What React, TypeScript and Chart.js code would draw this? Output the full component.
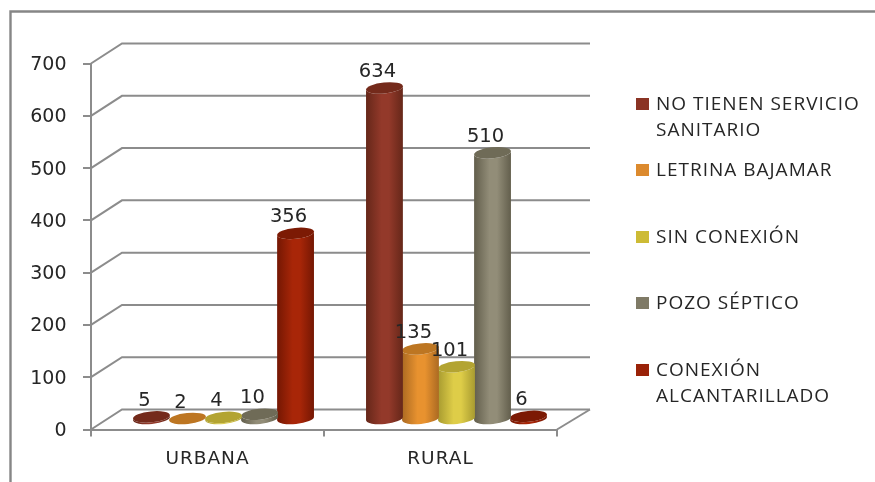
import React, { useEffect, useRef } from "react";
import { Chart, registerables } from "chart.js";

Chart.register(...registerables);

const categories = ["URBANA", "RURAL"];
const noTienen = [5, 634];
const letrina = [2, 135];
const sinConexion = [4, 101];
const pozo = [10, 510];
const alcantarillado = [356, 6];
const seriesNames = [
  "NO TIENEN SERVICIO SANITARIO",
  "LETRINA BAJAMAR",
  "SIN CONEXIÓN",
  "POZO SÉPTICO",
  "CONEXIÓN ALCANTARILLADO",
];
const swatchColors = ["#8a3324", "#dc8a2e", "#cdbb35", "#7f7a66", "#9a2208"];
const edgeColors = ["#652719", "#ab6a22", "#a89b30", "#625e4c", "#741703"];
const midColors = ["#93392a", "#e8922f", "#decd48", "#928d78", "#a82608"];
const capColors = ["#742a1b", "#bd7622", "#b3a432", "#6f6b57", "#7c1a04"];

const GRAY = "#8c8c8c";
const TEXT = "#262626";
const DEPTH_X = 31;
const DEPTH_Y = 20;
const BAR_DX = 16;
const BAR_DY = 10;
const RY = 5.5;
const TILT = -0.1;
const LEGEND_Y = [104.5, 170.5, 237.5, 303.5, 370.5];

const plugin = {
  id: "cyl3d",
  beforeDraw(chart: any) {
    const c = chart.ctx;
    c.save();
    c.fillStyle = "#fff";
    c.fillRect(0, 0, chart.width, chart.height);
    c.strokeStyle = "#868686";
    c.lineWidth = 2.4;
    c.beginPath();
    c.moveTo(10.5, 482);
    c.lineTo(10.5, 11.5);
    c.lineTo(875, 11.5);
    c.stroke();
    c.restore();
    c.letterSpacing = "1px";
  },
  beforeDatasetsDraw(chart: any) {
    const c = chart.ctx;
    c.letterSpacing = "0px";
    const y = chart.scales.y;
    const { left, right, bottom } = chart.chartArea;
    c.save();
    c.strokeStyle = GRAY;
    c.lineWidth = 2;
    y.ticks.forEach((t: any) => {
      const py = y.getPixelForValue(t.value);
      c.beginPath();
      c.moveTo(left, py);
      c.lineTo(left + DEPTH_X, py - DEPTH_Y);
      c.lineTo(right + DEPTH_X + 2, py - DEPTH_Y);
      c.stroke();
    });
    c.beginPath();
    c.moveTo(right, bottom);
    c.lineTo(right + DEPTH_X + 2, bottom - DEPTH_Y);
    c.stroke();
    c.fillStyle = TEXT;
    c.font = '19px "DejaVu Sans"';
    c.textAlign = "right";
    c.textBaseline = "middle";
    y.ticks.forEach((t: any) => {
      c.fillText(String(t.value), 66.5, y.getPixelForValue(t.value) + 1.5);
    });
    c.restore();
  },
  beforeDatasetDraw(chart: any, args: any) {
    const c = chart.ctx;
    const i = args.index;
    args.meta.data.forEach((el: any) => {
      const { x, y, base, width } = el.getProps(["x", "y", "base", "width"], true);
      const cx = x + BAR_DX;
      const top = y - BAR_DY;
      const bot = base - BAR_DY;
      const rx = width / 2 + 0.5;
      const g = c.createLinearGradient(cx - rx, 0, cx + rx, 0);
      g.addColorStop(0, edgeColors[i]);
      g.addColorStop(0.42, midColors[i]);
      g.addColorStop(0.62, midColors[i]);
      g.addColorStop(1, edgeColors[i]);
      c.save();
      c.fillStyle = g;
      c.beginPath();
      c.ellipse(cx, bot, rx, RY, TILT, 0, Math.PI);
      c.ellipse(cx, top, rx, RY, TILT, Math.PI, 0, true);
      c.closePath();
      c.fill();
      c.fillStyle = capColors[i];
      c.beginPath();
      c.ellipse(cx, top, rx, RY, TILT, 0, Math.PI * 2);
      c.fill();
      c.restore();
    });
    return false;
  },
  afterDatasetsDraw(chart: any) {
    const c = chart.ctx;
    c.save();
    c.fillStyle = TEXT;
    c.textAlign = "center";
    c.textBaseline = "middle";
    c.font = '19.5px "DejaVu Sans"';
    chart.data.datasets.forEach((ds: any, i: number) => {
      chart.getDatasetMeta(i).data.forEach((el: any, j: number) => {
        c.fillText(String(ds.data[j]), el.x + BAR_DX - 7, el.y - BAR_DY - 16);
      });
    });
    c.font = '19px "Open Sans"';
    c.letterSpacing = "1px";
    c.textAlign = "left";
    chart.data.datasets.forEach((ds: any, i: number) => {
      const ly = LEGEND_Y[i];
      c.fillStyle = ds.backgroundColor;
      c.fillRect(636, ly - 6.5, 13, 12);
      c.fillStyle = TEXT;
      const words = String(ds.label).split(" ");
      const lines: string[] = [];
      let cur = "";
      words.forEach((w) => {
        const next = cur ? cur + " " + w : w;
        if (c.measureText(next).width > 212 && cur) {
          lines.push(cur);
          cur = w;
        } else cur = next;
      });
      lines.push(cur);
      lines.forEach((l, k) => c.fillText(l, 656, ly + k * 26));
    });
    c.restore();
  },
};

export default function App() {
  const ref = useRef<HTMLCanvasElement>(null);
  useEffect(() => {
    const series = [noTienen, letrina, sinConexion, pozo, alcantarillado];
    const chart = new Chart(ref.current as HTMLCanvasElement, {
      type: "bar",
      data: {
        labels: categories,
        datasets: series.map((data, i) => ({
          label: seriesNames[i],
          data,
          backgroundColor: swatchColors[i],
          categoryPercentage: 0.773,
          barPercentage: 1,
        })),
      },
      options: {
        responsive: false,
        animation: false,
        devicePixelRatio: 1,
        layout: { padding: { left: 0, top: 63.5, right: 318, bottom: 0 } },
        plugins: { legend: { display: false }, tooltip: { enabled: false } },
        scales: {
          x: {
            afterFit: (s: any) => { s.height = 52.5; },
            grid: { color: GRAY, lineWidth: 2, drawOnChartArea: false, tickLength: 7 },
            border: { color: GRAY, width: 2 },
            ticks: { color: TEXT, padding: 12, font: { family: "DejaVu Sans", size: 18.5 } },
          },
          y: {
            min: 0,
            max: 700,
            afterFit: (s: any) => { s.width = 91; },
            grid: { color: GRAY, lineWidth: 2, drawOnChartArea: false, tickLength: 8 },
            border: { color: GRAY, width: 2 },
            ticks: { display: false, stepSize: 100 },
          },
        },
      } as any,
      plugins: [plugin as any],
    });
    return () => chart.destroy();
  }, []);
  return (
    <div style={{ position: "absolute", left: 0, top: 0, width: 875, height: 482, overflow: "hidden" }}>
      <canvas ref={ref} width={875} height={482} style={{ display: "block", filter: "blur(0.4px)" }} />
    </div>
  );
}
